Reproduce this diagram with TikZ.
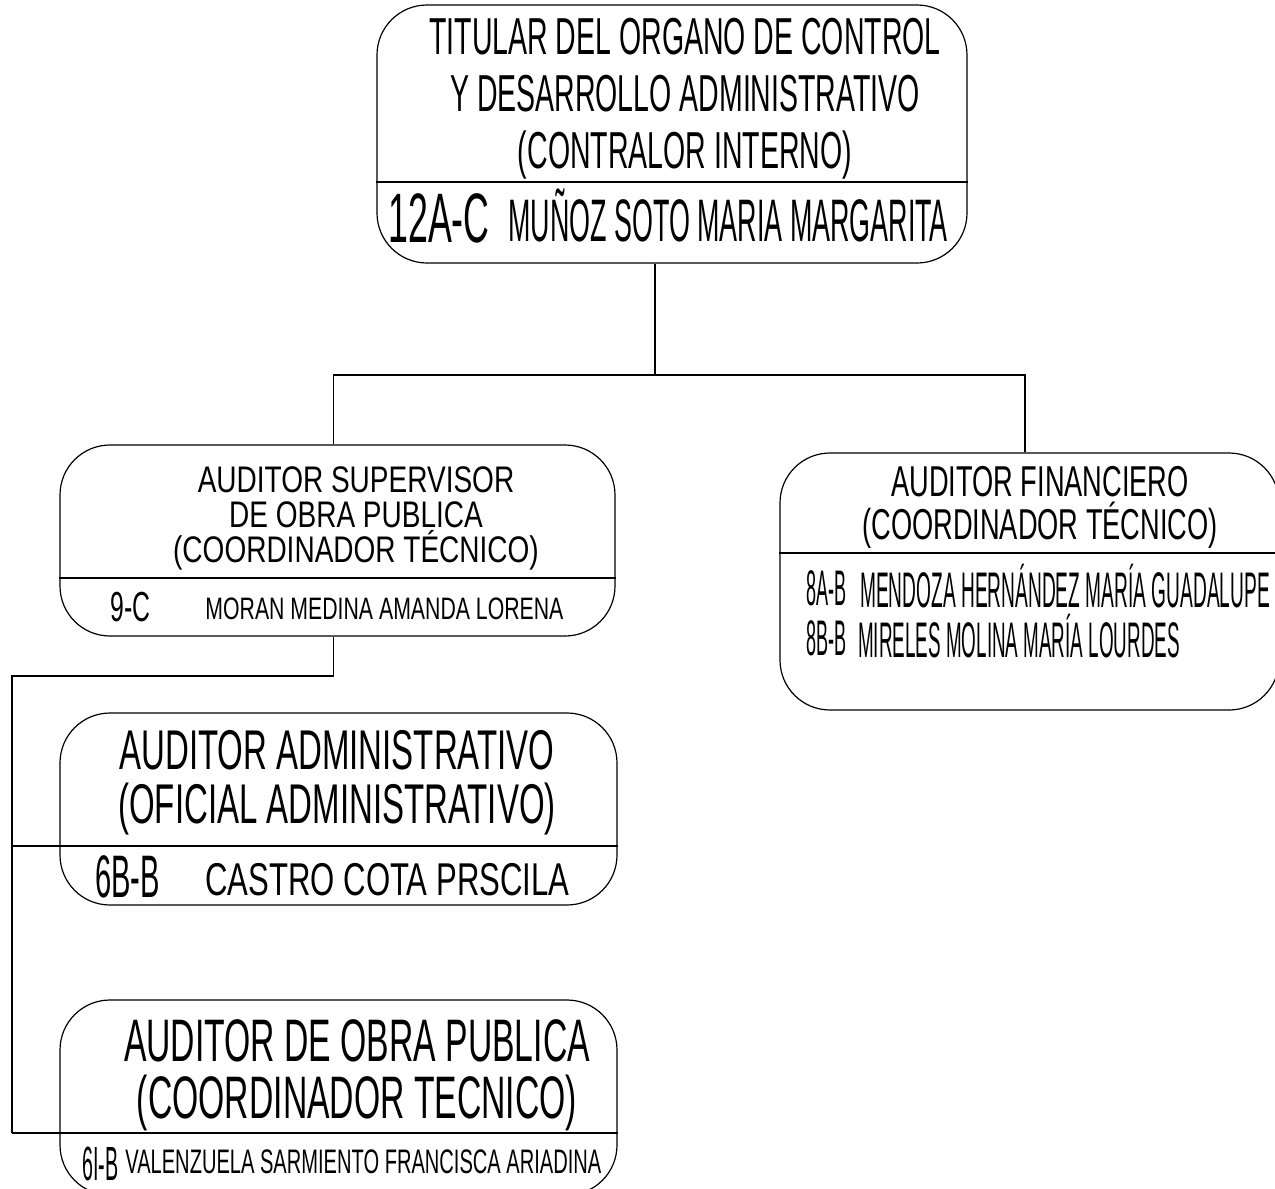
\documentclass[tikz,border=0pt]{standalone}
\usepackage{fontspec}
\setmainfont{Liberation Sans}
\usetikzlibrary{positioning}

\newcommand{\tamano}[2]{\fontsize{#1}{#2}\selectfont}

\begin{document}
\begin{tikzpicture}[x=0.5pt,y=-0.5pt,line width=0.6pt,
  cargo/.style={draw,rounded corners=25pt,inner sep=0pt},
  titulo/.style={align=center,inner sep=0pt},
  clave/.style={anchor=base west,inner sep=0pt}]
  \useasboundingbox (0,0) rectangle (1275,1189);

  \node (tit) [cargo,minimum width=295pt,minimum height=129pt] at (672,134) {};
  \node (sup) [cargo,minimum width=277.5pt,minimum height=95.5pt] at (337.5,540.5) {};
  \node (fin) [cargo,minimum width=249.5pt,minimum height=128.5pt] at (1029.5,581.5) {};
  \node (adm) [cargo,minimum width=278.5pt,minimum height=96pt] at (338.5,809) {};
  \node (obra) [cargo,minimum width=278.5pt,minimum height=97.5pt] at (338.5,1097.5) {};

  \node (titT) [titulo,xscale=.548,font=\tamano{26}{28.5}] at (685,99) {TITULAR DEL ORGANO DE CONTROL\\Y DESARROLLO ADMINISTRATIVO\\(CONTRALOR INTERNO)};
  \node (titK) [clave,xscale=.511,font=\tamano{35}{35}] at (388,242) {12A-C};
  \node (titN) [clave,xscale=.448,font=\tamano{30}{30}] at (508,241) {MUÑOZ SOTO MARIA MARGARITA};

  \node (supT) [titulo,xscale=.757,font=\tamano{18.5}{17.5}] at (356,518) {AUDITOR SUPERVISOR\\DE OBRA PUBLICA\\(COORDINADOR TÉCNICO)};
  \node (supK) [clave,xscale=.59,font=\tamano{21}{21}] at (110,621) {9-C};
  \node (supN) [clave,xscale=.686,font=\tamano{15.5}{15.5}] at (205,619) {MORAN MEDINA AMANDA LORENA};

  \node (finT) [titulo,xscale=.63,font=\tamano{21.6}{21.5}] at (1040,507) {AUDITOR FINANCIERO\\(COORDINADOR TÉCNICO)};
  \node (finK1) [clave,xscale=.361,font=\tamano{25}{25}] at (806,605) {8A-B};
  \node (finN1) [clave,xscale=.383,font=\tamano{25}{25}] at (860,607) {MENDOZA HERNÁNDEZ MARÍA GUADALUPE};
  \node (finK2) [clave,xscale=.361,font=\tamano{25}{25}] at (806,655) {8B-B};
  \node (finN2) [clave,xscale=.377,font=\tamano{25}{25}] at (858,657) {MIRELES MOLINA MARÍA LOURDES};

  \node (admT) [titulo,xscale=.589,font=\tamano{28}{27}] at (337,783) {AUDITOR ADMINISTRATIVO\\(OFICIAL ADMINISTRATIVO)};
  \node (admK) [clave,xscale=.485,font=\tamano{30}{30}] at (95,897) {6B-B};
  \node (admN) [clave,xscale=.676,font=\tamano{23}{23}] at (205,895) {CASTRO COTA PRSCILA};

  \node (obraT) [titulo,xscale=.562,font=\tamano{30}{28.5}] at (357,1075) {AUDITOR DE OBRA PUBLICA\\(COORDINADOR TECNICO)};
  \node (obraK) [clave,xscale=.41,font=\tamano{24}{24}] at (82,1180) {6I-B};
  \node (obraN) [clave,xscale=.591,font=\tamano{17}{17}] at (125,1173) {VALENZUELA SARMIENTO FRANCISCA ARIADINA};

  \coordinate (bus) at (655,375);
  \coordinate (codo) at (12,676);
  \coordinate (pie) at (12,1133);
  \coordinate (admdiv) at (12,846);

  \draw (tit.west |- 0,182) -- (tit.east |- 0,182);
  \draw (sup.west |- 0,578) -- (sup.east |- 0,578);
  \draw (fin.west |- 0,553) -- (fin.east |- 0,553);
  \draw (admdiv) -- (adm.east |- admdiv);
  \draw (pie) -- (obra.east |- pie);

  \draw (tit.south -| bus) -- (bus);
  \draw ([xshift=-2pt]sup.north) |- (bus) -| ([xshift=-2.25pt]fin.north);
  \draw ([xshift=-2pt]sup.south) |- (codo) -- (pie);
\end{tikzpicture}
\end{document}
